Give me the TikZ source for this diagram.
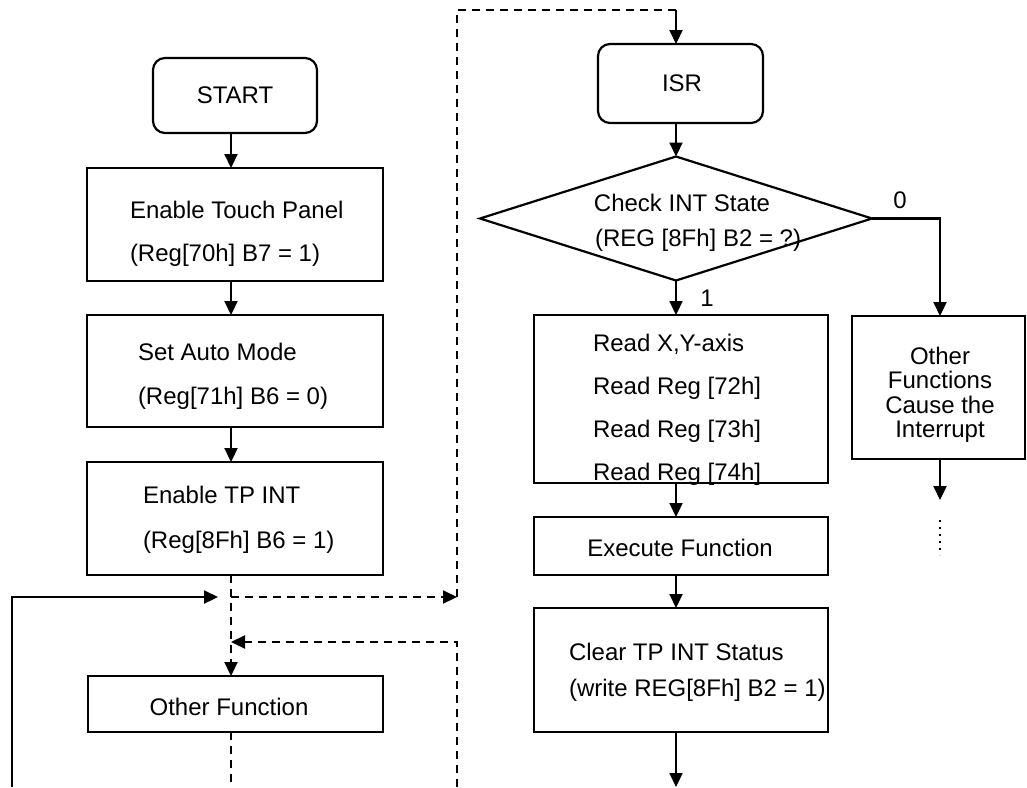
\documentclass[tikz,border=0pt]{standalone}
\usepackage{fontspec}
\setmainfont{Liberation Sans}
\usetikzlibrary{arrows.meta,shapes.geometric}
\begin{document}
\begin{tikzpicture}[x=0.5pt,y=-0.5pt,
  line width=1.1pt,
  every node/.style={font=\fontsize{12}{12.25}\selectfont, inner sep=0pt, outer sep=0pt},
  box/.style={draw, rectangle, minimum width=147pt},
  rbox/.style={draw, rectangle, rounded corners=6pt},
  dec/.style={draw, diamond, minimum width=196pt, minimum height=62pt},
  arr/.style={-{Triangle[length=7pt,width=6.5pt]}},
  dsh/.style={dash pattern=on 4pt off 3pt},
  txt/.style={anchor=base west},
  lbl/.style={anchor=center}
]
\useasboundingbox (0,0) rectangle (1027,787);

% column references
\coordinate (cL) at (231,0);
\coordinate (cR) at (676,0);
\coordinate (cO) at (940,0);

% left column
\node[rbox, minimum width=82pt, minimum height=37.5pt] (start) at (235,95.5) {START};
\node[box, minimum width=148pt, minimum height=56.5pt] (b1) at (235,224.5) {};
\node[txt] (t1a) at (130,218) {Enable Touch Panel};
\node[txt] (t1b) at (130,261) {(Reg[70h] B7 = 1)};
\node[box, minimum width=148pt, minimum height=56pt] (b2) at (235,371) {};
\node[txt] (t2a) at (138,360) {Set Auto Mode};
\node[txt] (t2b) at (138,404) {(Reg[71h] B6 = 0)};
\node[box, minimum width=148pt, minimum height=56.5pt] (b3) at (235,518.5) {};
\node[txt] (t3a) at (143,503) {Enable TP INT};
\node[txt] (t3b) at (143,548) {(Reg[8Fh] B6 = 1)};
\node[box, minimum width=147.5pt, minimum height=28pt] (oth) at (235.5,704) {};
\node[lbl] (toth) at (229,707) {Other Function};

% right column
\node[rbox, minimum width=82.5pt, minimum height=39.5pt] (isr) at (680.5,83.5) {};
\node[lbl] (tisr) at (682,83) {ISR};
\node[dec] (chk) at (676,218.5) {};
\node[lbl] (tchk1) at (682,203) {Check INT State};
\node[txt] (tchk2) at (595,246) {(REG [8Fh] B2 = ?)};
\node[box, minimum height=84pt] (rd) at (681,399) {};
\node[txt] (tr1) at (593,351) {Read X,Y-axis};
\node[txt] (tr2) at (593,394) {Read Reg [72h]};
\node[txt] (tr3) at (593,437) {Read Reg [73h]};
\node[txt] (tr4) at (593,480) {Read Reg [74h]};
\node[box, minimum height=29pt] (ex) at (681,546) {};
\node[lbl] (tex) at (680,548) {Execute Function};
\node[box, minimum height=62pt] (clr) at (681,670) {};
\node[txt] (tc1) at (569,660) {Clear TP INT Status};
\node[txt] (tc2) at (569,696) {(write REG[8Fh] B2 = 1)};
\node[draw, rectangle, minimum width=86.5pt, minimum height=71.5pt] (of) at (938.5,387.5) {};
\node[align=center, anchor=center] (tof) at (940,395) {Other\\Functions\\Cause the\\Interrupt};

\node[lbl] (l1) at (707,298) {1};
\node[lbl] (l0) at (900,200) {0};

% loop coordinates
\coordinate (loopS) at (12,787);
\coordinate (loopE) at (218,597);
\coordinate (jn) at (231,597);
\coordinate (jx) at (457,597);
\coordinate (topL) at (457,10);
\coordinate (topR) at (676,10);
\coordinate (retS) at (457,787);
\coordinate (retE) at (231,642);
\coordinate (botL) at (231,787);
\coordinate (botR) at (676,787);
\coordinate (ofEnd) at (940,500);
\coordinate (dotA) at (940,520);
\coordinate (dotB) at (940,555);

% left connectors
\draw[arr] (start.south -| cL) -- (b1.north -| cL);
\draw[arr] (b1.south -| cL) -- (b2.north -| cL);
\draw[arr] (b2.south -| cL) -- (b3.north -| cL);
\draw[arr, dsh] (b3.south -| cL) -- (oth.north -| cL);
\draw[dsh] (oth.south -| cL) -- (botL);
\draw[arr] (loopS) |- (loopE);
\draw[arr, dsh] (jn) -- (jx);
\draw[dsh] (jx) -- (topL) -- (topR);
\draw[arr] (topR) -- (isr.north -| cR);
\draw[arr, dsh] (retS) |- (retE);

% right connectors
\draw[arr] (isr.south -| cR) -- (chk.north);
\draw[arr] (chk.south) -- (rd.north -| cR);
\draw[arr] (chk.east) -| (of.north -| cO);
\draw[arr] (of.south -| cO) -- (ofEnd);
\draw[line width=1.2pt, dash pattern=on 1.2pt off 2.3pt] (dotA) -- (dotB);
\draw[arr] (rd.south -| cR) -- (ex.north -| cR);
\draw[arr] (ex.south -| cR) -- (clr.north -| cR);
\draw[arr] (clr.south -| cR) -- (botR);
\end{tikzpicture}
\end{document}
